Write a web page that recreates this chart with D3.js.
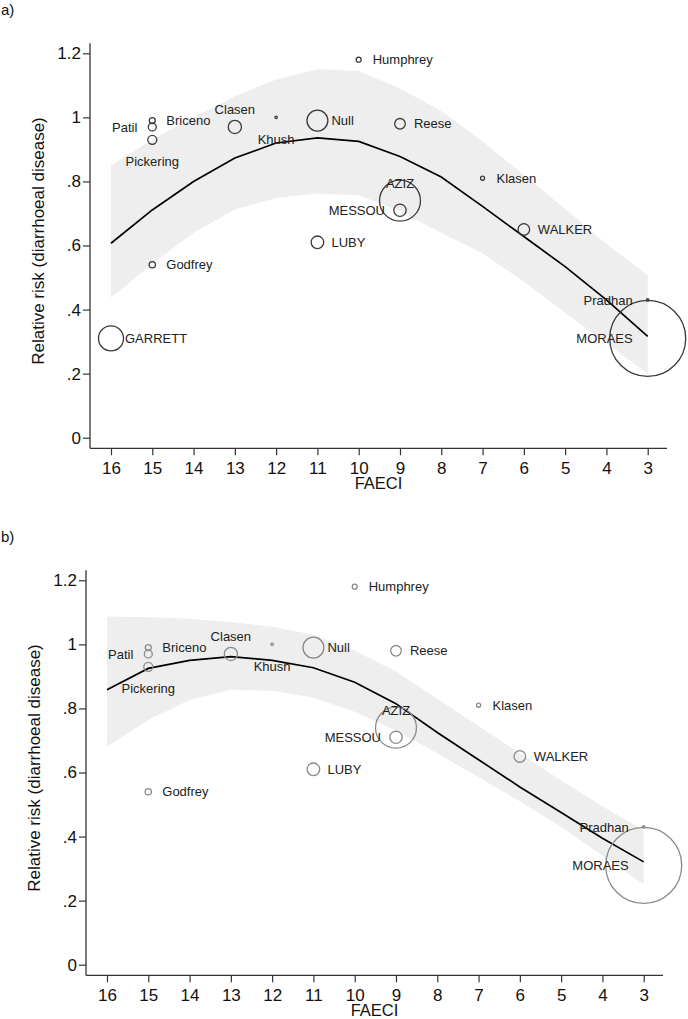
<!DOCTYPE html>
<html>
<head>
<meta charset="utf-8">
<script src="https://cdn.jsdelivr.net/npm/d3@7"></script>
<style>
  html, body { margin: 0; padding: 0; background: #fff; }
  svg { display: block; }
  text { font-family: "Liberation Sans", Arial, sans-serif; }
</style>
</head>
<body>
<svg id="chart" width="688" height="1019"></svg>
<script>
// ---- data ----
const studies = ["Humphrey","Briceno","Patil","Pickering","Clasen","Khush","Null","Reese","Klasen","AZIZ","MESSOU","LUBY","WALKER","Godfrey","GARRETT","Pradhan","MORAES"];
const faeci   = [10, 15, 15, 15, 13, 12, 11, 9, 7, 9, 9, 11, 6, 15, 16, 3, 3];
const rr      = [1.18, 0.99, 0.97, 0.93, 0.97, 1.00, 0.99, 0.98, 0.81, 0.74, 0.71, 0.61, 0.65, 0.54, 0.31, 0.43, 0.31];
const weights = [0.26, 0.38, 0.67, 0.85, 1.83, 0.04, 4.6, 1.18, 0.17, 17.6, 1.6, 1.67, 1.41, 0.42, 6.57, 0.04, 60.7];
const labelClock = [3, 3, 9, 6, 12, 6, 3, 3, 3, 12, 9, 3, 3, 3, 3, 9, 9];

const fitX = [16, 15, 14, 13, 12, 11, 10, 9, 8, 7, 6, 5, 4, 3];
const fitA = [0.607, 0.711, 0.800, 0.873, 0.920, 0.936, 0.925, 0.878, 0.814, 0.722, 0.628, 0.534, 0.430, 0.316];
const loA  = [0.436, 0.543, 0.640, 0.712, 0.748, 0.762, 0.757, 0.708, 0.639, 0.576, 0.487, 0.390, 0.296, 0.200];
const hiA  = [0.850, 0.930, 1.000, 1.066, 1.118, 1.150, 1.145, 1.090, 1.020, 0.925, 0.820, 0.715, 0.605, 0.508];
const fitB = [0.858, 0.925, 0.950, 0.962, 0.950, 0.927, 0.882, 0.815, 0.725, 0.640, 0.555, 0.475, 0.395, 0.321];
const loB  = [0.680, 0.764, 0.826, 0.858, 0.855, 0.833, 0.790, 0.730, 0.660, 0.585, 0.510, 0.430, 0.340, 0.250];
const hiB  = [1.087, 1.085, 1.080, 1.070, 1.055, 1.030, 0.980, 0.915, 0.830, 0.745, 0.660, 0.575, 0.495, 0.420];

const xTicks = [16, 15, 14, 13, 12, 11, 10, 9, 8, 7, 6, 5, 4, 3];
const yTicks = [0, 0.2, 0.4, 0.6, 0.8, 1, 1.2];
const yTickLabels = ["0", ".2", ".4", ".6", ".8", "1", "1.2"];
const xTitle = "FAECI";
const yTitle = "Relative risk (diarrhoeal disease)";
const panelTitles = ["a)", "b)"];

// ---- drawing ----
const svg = d3.select("#chart");
const x = d3.scaleLinear().domain([16, 3]).range([111, 647.7]);
const y = d3.scaleLinear().domain([0, 1.2]).range([437.7, 53.3]);
const r = d3.scaleSqrt().domain([0, d3.max(weights)]).range([0, 38]);
const plotLeft = 90, plotRight = 667, plotTop = 43.3, plotBottom = 448.3;

function drawPanel(g, fit, lo, hi, keep, circleColor, title) {
  svg.append("text").attr("x", 1).attr("y", g.ty + 15)
    .attr("font-size", 15).attr("fill", "#111").text(title);
  const p = svg.append("g").attr("transform", `translate(${g.tx},${g.ty})`);

  const band = fitX.map((v, i) => ({x: v, lo: lo[i], hi: hi[i], f: fit[i]}));
  p.append("path").datum(band)
    .attr("d", d3.area().x(d => x(d.x)).y0(d => y(d.lo)).y1(d => y(d.hi)))
    .attr("fill", "#eeeeee");

  p.append("path").datum(band)
    .attr("d", d3.line().x(d => x(d.x)).y(d => y(d.f)))
    .attr("fill", "none").attr("stroke", "#000").attr("stroke-width", 1.7);

  const pts = studies.map((s, i) => ({s, x: faeci[i], y: rr[i], w: weights[i], c: labelClock[i]}))
    .filter(d => keep(d.s));
  p.selectAll("circle.pt").data(pts).join("circle").attr("class", "pt")
    .attr("cx", d => x(d.x)).attr("cy", d => y(d.y))
    .attr("r", d => Math.max(1.2, r(d.w)))
    .attr("fill", "none").attr("stroke", circleColor).attr("stroke-width", 1.3);

  p.selectAll("text.lab").data(pts).join("text").attr("class", "lab")
    .attr("font-size", 13).attr("fill", "#222")
    .attr("x", d => x(d.x) + (d.c === 3 ? 14 : d.c === 9 ? -15 : 0))
    .attr("y", d => y(d.y) + (d.c === 12 ? -17.5 : d.c === 6 ? 22 : 0))
    .attr("dy", "0.35em")
    .attr("text-anchor", d => d.c === 3 ? "start" : d.c === 9 ? "end" : "middle")
    .text(d => d.s);

  const ya = p.append("g").attr("transform", `translate(${plotLeft},0)`)
    .call(d3.axisLeft(y).tickValues(yTicks).tickFormat((d, i) => yTickLabels[i]).tickSize(7).tickPadding(2));
  const xa = p.append("g").attr("transform", `translate(0,${plotBottom})`)
    .call(d3.axisBottom(x).tickValues(xTicks).tickFormat(d3.format("d")).tickSize(7).tickPadding(7));
  [ya, xa].forEach(a => {
    a.select(".domain").remove();
    a.selectAll("line").attr("stroke", "#333").attr("stroke-width", 1.2);
    a.selectAll("text").attr("font-size", 17).attr("fill", "#111")
      .attr("font-family", "'Liberation Sans', Arial, sans-serif");
  });
  p.append("line").attr("x1", plotLeft).attr("x2", plotLeft).attr("y1", plotTop).attr("y2", plotBottom)
    .attr("stroke", "#333").attr("stroke-width", 1.3);
  p.append("line").attr("x1", plotLeft).attr("x2", plotRight).attr("y1", plotBottom).attr("y2", plotBottom)
    .attr("stroke", "#333").attr("stroke-width", 1.3);

  p.append("text").attr("x", (plotLeft + plotRight) / 2).attr("y", 489)
    .attr("text-anchor", "middle").attr("font-size", 16.5).attr("fill", "#111").text(xTitle);
  p.append("text").attr("transform", "translate(38,241) rotate(-90)")
    .attr("dy", "0.35em").attr("text-anchor", "middle").attr("font-size", 17).attr("fill", "#111").text(yTitle);
}

drawPanel({tx: 0, ty: 0}, fitA, loA, hiA, () => true, "#3a3a3a", panelTitles[0]);
drawPanel({tx: -4, ty: 527}, fitB, loB, hiB, s => s !== "GARRETT", "#8a8a8a", panelTitles[1]);
</script>
</body>
</html>
